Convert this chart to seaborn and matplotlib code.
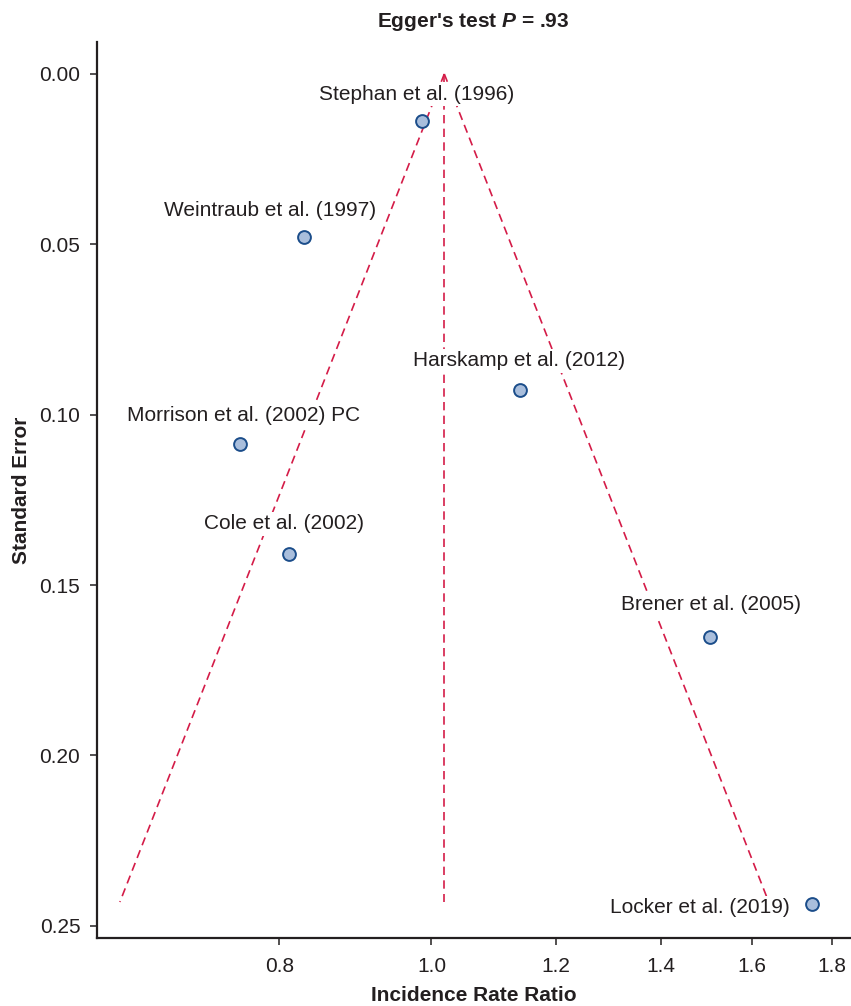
import numpy as np
import pandas as pd
import matplotlib
matplotlib.use("Agg")
import matplotlib.pyplot as plt
import matplotlib.ticker as mticker
import seaborn as sns

# ---- data ----
studies = ["Stephan et al. (1996)", "Weintraub et al. (1997)", "Harskamp et al. (2012)",
           "Morrison et al. (2002) PC", "Cole et al. (2002)", "Brener et al. (2005)",
           "Locker et al. (2019)"]
irr = [0.986, 0.829, 1.139, 0.755, 0.811, 1.505, 1.748]
se = [0.0138, 0.0478, 0.0927, 0.1086, 0.1408, 0.1652, 0.2435]
pooled_irr = 1.019
se_max = 0.243
x_ticks = [0.8, 1.0, 1.2, 1.4, 1.6, 1.8]
y_ticks = [0.00, 0.05, 0.10, 0.15, 0.20, 0.25]
title_p = ".93"

# label offsets (points): dx, dy, ha
label_offsets = [(-3.6, 19.4, "center"), (-24.5, 18.7, "center"), (-0.7, 20.9, "center"),
                 (2.2, 20.2, "center"), (-3.6, 21.6, "center"), (0.7, 23.0, "center"),
                 (-15.8, -2.9, "right")]

df = pd.DataFrame({"study": studies, "irr": irr, "se": se})

sns.set_style("white")
plt.rcParams["font.family"] = ["Liberation Sans", "DejaVu Sans"]
plt.rcParams["mathtext.fontset"] = "custom"
plt.rcParams["mathtext.rm"] = "Liberation Sans:bold"
plt.rcParams["mathtext.it"] = "Liberation Sans:italic:bold"
plt.rcParams["mathtext.bf"] = "Liberation Sans:bold"
plt.rcParams["text.color"] = "#231f20"
plt.rcParams["axes.labelcolor"] = "#231f20"

FS = 15

fig = plt.figure(figsize=(8.51, 10.06), dpi=100)
ax = fig.add_axes([0.114, 0.0678, 0.885, 0.8905])

red = "#d41c48"
se_line = np.array([0.0, se_max])
lo = np.exp(np.log(pooled_irr) - 1.96 * se_line)
hi = np.exp(np.log(pooled_irr) + 1.96 * se_line)
dash = (5.0, 3.2)
for xs in (lo, hi, [pooled_irr, pooled_irr]):
    ax.plot(xs, se_line, color=red, lw=1.2, dashes=dash, zorder=1)

sns.scatterplot(data=df, x="irr", y="se", ax=ax, s=85, color="#a9bedc",
                edgecolor="#1b4d8a", linewidth=1.4, zorder=4, legend=False)

for (name, x, y), (dx, dy, ha) in zip(zip(studies, irr, se), label_offsets):
    ax.annotate(name, xy=(x, y), xytext=(dx, dy), textcoords="offset points",
                ha=ha, va="center", fontsize=FS,
                bbox=dict(boxstyle="square,pad=0.12", fc="white", ec="none"), zorder=3)

ax.set_xscale("log")
ax.set_xlim(0.612, 1.849)
ax.set_ylim(0.2535, -0.0094)
ax.xaxis.set_major_locator(mticker.FixedLocator(x_ticks))
ax.xaxis.set_major_formatter(mticker.FormatStrFormatter("%.1f"))
ax.xaxis.set_minor_locator(mticker.NullLocator())
ax.set_yticks(y_ticks)
ax.yaxis.set_major_formatter(mticker.FormatStrFormatter("%.2f"))

for s in ["top", "right"]:
    ax.spines[s].set_visible(False)
for s in ["left", "bottom"]:
    ax.spines[s].set_linewidth(1.6)
    ax.spines[s].set_color("#231f20")
ax.tick_params(axis="both", direction="out", length=5, width=1.1, color="#231f20",
               labelsize=FS, labelcolor="#231f20", pad=7, bottom=True, left=True)
ax.tick_params(axis="x", pad=9)

ax.set_xlabel("Incidence Rate Ratio", fontsize=FS, fontweight="bold", labelpad=7)
ax.set_ylabel("Standard Error", fontsize=FS, fontweight="bold", labelpad=6)
ax.set_title(r"Egger's test $\mathit{P}$ = " + title_p, fontsize=FS, fontweight="bold", pad=11)

fig.savefig("out.png", dpi=100)
